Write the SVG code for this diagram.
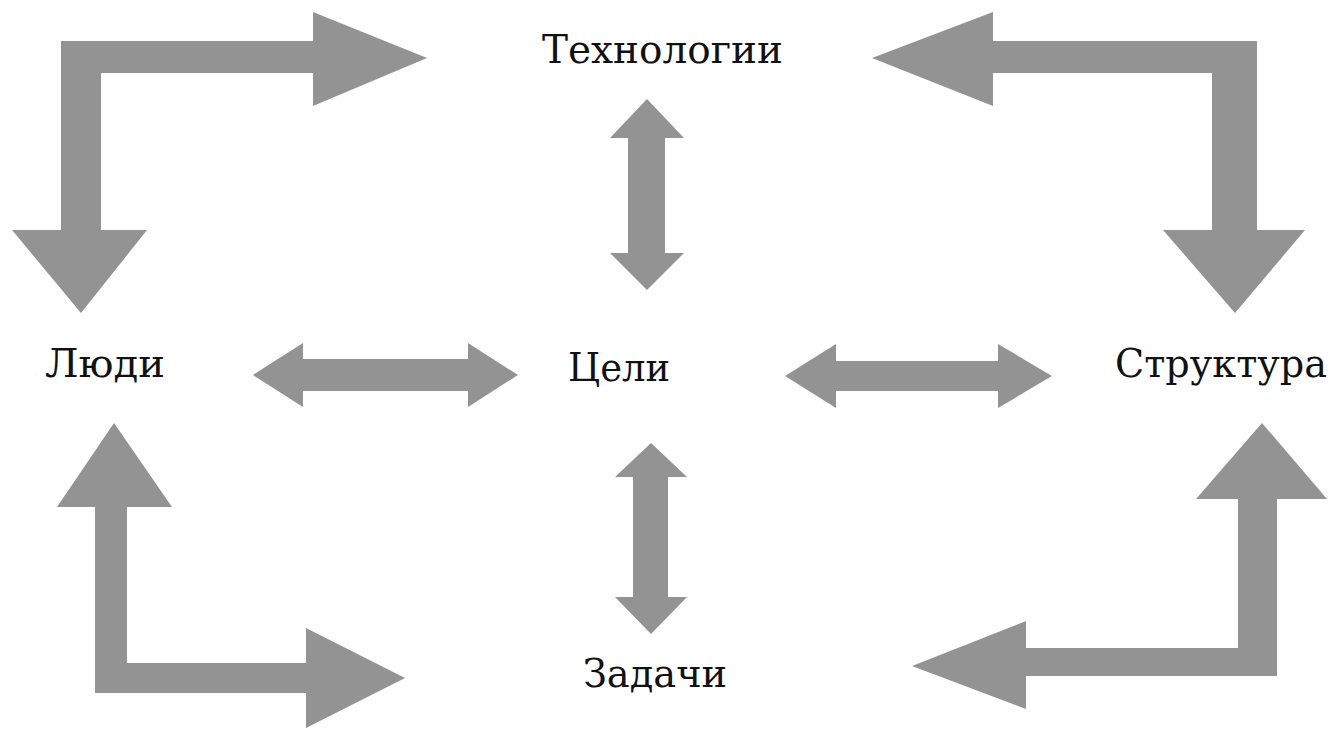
<svg xmlns="http://www.w3.org/2000/svg" width="1338" height="729" viewBox="0 0 1338 729">
<style>
.arr{fill:#939393;stroke:none}
.lbl{font-family:"DejaVu Serif","Liberation Serif",serif;font-size:40px;fill:#111}
</style>
<rect width="1338" height="729" fill="#ffffff"/>
<g id="connectors">
<path class="arr" d="M61 41 L313 41 L313 12 L427 58 L313 106 L313 73 L101 73 L101 230 L147 230 L81 313 L12 230 L61 230 Z"/>
<path class="arr" d="M1257 41 L993 41 L993 12 L872 58 L993 106 L993 73 L1212 73 L1212 230 L1163 230 L1235 313 L1305 230 L1257 230 Z"/>
<path class="arr" d="M95 693 L95 507 L57 507 L114 423 L172 507 L127 507 L127 663 L306 663 L306 628 L405 678 L306 728 L306 693 Z"/>
<path class="arr" d="M1277 676 L1277 499 L1327 499 L1262 423 L1196 499 L1238 499 L1238 648 L1026 648 L1026 621 L912 666 L1026 709 L1026 676 Z"/>
<path class="arr" d="M253 375 L303 343 L303 359 L468 359 L468 343 L518 375 L468 407 L468 391 L303 391 L303 407 Z"/>
<path class="arr" d="M785 376 L836 344 L836 361 L998 361 L998 344 L1052 376 L998 408 L998 391 L836 391 L836 408 Z"/>
<path class="arr" d="M647 99 L684 138 L665 138 L665 253 L684 253 L647 290 L610 253 L628 253 L628 138 L610 138 Z"/>
<path class="arr" d="M651 443 L687 477 L668 477 L668 597 L687 597 L651 634 L615 597 L633 597 L633 477 L615 477 Z"/>
</g>
<g id="node-tech"><text class="lbl" x="542" y="63" textLength="241" lengthAdjust="spacingAndGlyphs">Технологии</text></g>
<g id="node-people"><text class="lbl" x="45" y="377" textLength="120" lengthAdjust="spacingAndGlyphs">Люди</text></g>
<g id="node-goals"><text class="lbl" x="568" y="381" textLength="102" lengthAdjust="spacingAndGlyphs">Цели</text></g>
<g id="node-structure"><text class="lbl" x="1115" y="377" textLength="212" lengthAdjust="spacingAndGlyphs">Структура</text></g>
<g id="node-tasks"><text class="lbl" x="583" y="687" textLength="144" lengthAdjust="spacingAndGlyphs">Задачи</text></g>
</svg>
